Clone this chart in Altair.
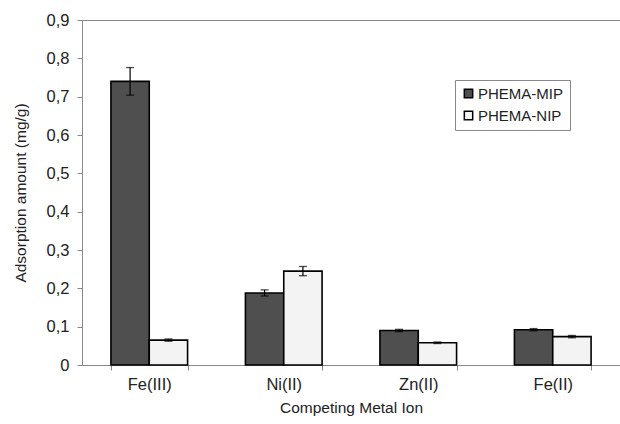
import altair as alt
import pandas as pd

categories = ["Fe(III)", "Ni(II)", "Zn(II)", "Fe(II)"]
mip_values = [0.740, 0.188, 0.090, 0.092]
mip_errors = [0.036, 0.008, 0.003, 0.003]
nip_values = [0.065, 0.245, 0.058, 0.074]
nip_errors = [0.003, 0.012, 0.002, 0.003]
series = ["PHEMA-MIP", "PHEMA-NIP"]
y_ticks = [0, 0.1, 0.2, 0.3, 0.4, 0.5, 0.6, 0.7, 0.8, 0.9]

rows = []
for i, c in enumerate(categories):
    rows.append({"ion": c, "series": series[0], "value": mip_values[i],
                 "lo": mip_values[i] - mip_errors[i], "hi": mip_values[i] + mip_errors[i]})
    rows.append({"ion": c, "series": series[1], "value": nip_values[i],
                 "lo": nip_values[i] - nip_errors[i], "hi": nip_values[i] + nip_errors[i]})
df = pd.DataFrame(rows)

FONT = "Liberation Sans"

x_axis = alt.Axis(labelAngle=0, tickBand="extent", labelFontSize=16.5,
                  titleFontSize=15.5, titleFontWeight="normal", labelPadding=6,
                  titlePadding=8, domainColor="#888", tickColor="#888",
                  labelColor="#222", titleColor="#222", tickSize=5)
x_scale = alt.Scale(paddingInner=0.43, paddingOuter=0.215)
y_axis = alt.Axis(values=y_ticks, format=".1~f",
                  labelOverlap=False, labelPadding=8, labelBound=False,
                  grid=False, labelFontSize=16.5, titleFontSize=15.5,
                  titleFontWeight="normal", domainColor="#888", tickColor="#888",
                  labelColor="#222", titleColor="#222", tickSize=5, titlePadding=18)
y_scale = alt.Scale(domain=[0, 0.9], nice=False)
Y_TITLE = "Adsorption amount (mg/g)"
X_TITLE = "Competing Metal Ion"

xoff = alt.XOffset("series:N", sort=series, scale=alt.Scale(paddingInner=0, paddingOuter=0))

def xe():
    return alt.X("ion:N", sort=categories, title=X_TITLE, scale=x_scale, axis=x_axis)

bars = alt.Chart(df).mark_bar(stroke="black", strokeWidth=1.6).encode(
    x=xe(),
    xOffset=xoff,
    y=alt.Y("value:Q", scale=y_scale, title=Y_TITLE, axis=y_axis),
    fill=alt.Fill("series:N", sort=series,
                  scale=alt.Scale(domain=series, range=["#4f4f4f", "#f3f3f3"]),
                  legend=alt.Legend(title=None, orient="none", legendX=373, legendY=60,
                                    symbolType="square", symbolSize=70,
                                    symbolStrokeColor="black", symbolStrokeWidth=1.5,
                                    labelFontSize=15, labelFont=FONT, labelColor="#222",
                                    strokeColor="#888", fillColor="white",
                                    padding=6, rowPadding=6, labelOffset=2)),
)

rules = alt.Chart(df).mark_rule(color="black", strokeWidth=1.2).encode(
    x=xe(), xOffset=xoff,
    y=alt.Y("lo:Q", scale=y_scale, title=Y_TITLE, axis=y_axis), y2="hi:Q")

ticks_hi = alt.Chart(df).mark_tick(color="black", size=8, thickness=1.3).encode(
    x=xe(), xOffset=xoff,
    y=alt.Y("hi:Q", scale=y_scale, title=Y_TITLE, axis=y_axis))
ticks_lo = alt.Chart(df).mark_tick(color="black", size=8, thickness=1.3).encode(
    x=xe(), xOffset=xoff,
    y=alt.Y("lo:Q", scale=y_scale, title=Y_TITLE, axis=y_axis))

chart = alt.layer(bars, rules, ticks_hi, ticks_lo).properties(
    width=538, height=345,
    autosize=alt.AutoSizeParams(type="none"),
    padding={"left": 82, "top": 20, "right": 0, "bottom": 59},
    background="white",
).configure_view(stroke="#888", strokeWidth=1).configure_axis(
    labelFont=FONT, titleFont=FONT
)

chart.save("out.html", embed_options={
    "renderer": "svg", "actions": False,
    "formatLocale": {"decimal": ",", "thousands": ".", "grouping": [3],
                     "currency": ["", " €"]},
})
